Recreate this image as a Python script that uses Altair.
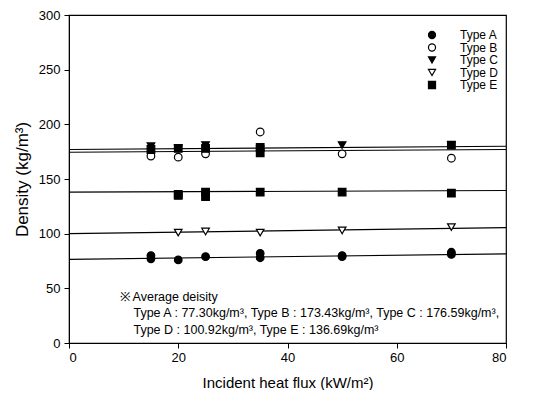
import altair as alt
import pandas as pd

# ---- data ----
types = ["Type A", "Type B", "Type C", "Type D", "Type E"]

a_x = [15, 15, 20, 25, 35, 35, 50, 50, 70, 70]
a_y = [80, 77, 76, 79, 82, 78, 80, 79, 83, 81]
b_x = [15, 20, 25, 35, 50, 70]
b_y = [171, 170, 173, 193, 173, 169]
c_x = [15, 20, 25, 35, 50, 70]
c_y = [180, 178, 181, 177, 181, 181]
d_x = [20, 25, 35, 50, 70]
d_y = [101, 102, 101, 103, 106]
e_x = [15, 20, 25, 35, 35, 70, 20, 20, 25, 25, 35, 50, 70]
e_y = [177, 178, 178, 179, 174, 181, 136, 135, 138, 134, 138, 138, 137]

# fitted lines (value at x=0 and x=80)
line_x0 = [0, 0, 0, 0, 0]
line_x1 = [80, 80, 80, 80, 80]
line_y0 = [76.5, 174.5, 177.0, 100.0, 138.0]
line_y1 = [81.5, 177.0, 180.0, 105.5, 139.5]

notes = [
    "※  Average deisity",
    "Type A :   77.30kg/m³, Type B : 173.43kg/m³, Type C : 176.59kg/m³,",
    "Type D : 100.92kg/m³, Type E : 136.69kg/m³",
]
note_x = [9.3, 11.8, 11.8]
note_y = [42, 27.3, 11.8]

shapes = ["circle", "circle", "triangle-down", "triangle-down", "square"]
fills = ["black", "white", "black", "white", "black"]
strokes = ["black"] * 5

rows = []
for t, xs, ys in zip(types, [a_x, b_x, c_x, d_x, e_x], [a_y, b_y, c_y, d_y, e_y]):
    for x, y in zip(xs, ys):
        rows.append({"type": t, "flux": x, "density": y})
pts = pd.DataFrame(rows)

lines = pd.DataFrame({"type": types, "x0": line_x0, "x1": line_x1,
                      "y0": line_y0, "y1": line_y1})
notes_df = pd.DataFrame({"t": notes, "x": note_x, "y": note_y})

FONT = "Liberation Sans"

xscale = alt.Scale(domain=[0, 80], nice=False)
yscale = alt.Scale(domain=[0, 300], nice=False)

xaxis = alt.Axis(title="Incident heat flux (kW/m²)", values=[0, 20, 40, 60, 80],
                 grid=False, tickSize=5, labelPadding=3, titlePadding=11,
                 domainColor="black", tickColor="black", labelColor="black",
                 titleColor="black", labelFontSize=13, titleFontSize=15,
                 titleFontWeight="normal", labelFont=FONT, titleFont=FONT)
yaxis = alt.Axis(title="Density (kg/m³)", values=[0, 50, 100, 150, 200, 250, 300],
                 grid=False, tickSize=5, labelPadding=4, titlePadding=7,
                 domainColor="black", tickColor="black", labelColor="black",
                 titleColor="black", labelFontSize=13, titleFontSize=17,
                 titleFontWeight="normal", labelFont=FONT, titleFont=FONT)

legend = alt.Legend(
    title=None, orient="none", legendX=357, legendY=14, labelFont=FONT,
    labelFontSize=12, labelColor="black", labelOffset=22, rowPadding=0.5,
    symbolSize=50, symbolStrokeWidth=1.2,
)

line_layer = alt.Chart(lines).mark_rule(color="black", strokeWidth=1.1).encode(
    x=alt.X("x0:Q", scale=xscale, axis=xaxis),
    x2="x1:Q",
    y=alt.Y("y0:Q", scale=yscale, axis=yaxis),
    y2="y1:Q",
)

point_layer = alt.Chart(pts).mark_point(filled=True, size=58,
                                        strokeWidth=1.2, opacity=1).encode(
    x=alt.X("flux:Q", scale=xscale),
    y=alt.Y("density:Q", scale=yscale),
    shape=alt.Shape("type:N", scale=alt.Scale(domain=types, range=shapes),
                    legend=legend),
    fill=alt.Fill("type:N", scale=alt.Scale(domain=types, range=fills),
                  legend=legend),
    stroke=alt.Stroke("type:N", scale=alt.Scale(domain=types, range=strokes),
                      legend=legend),
)

note_layer = alt.Chart(notes_df).mark_text(align="left", baseline="middle",
                                           font=FONT, fontSize=12.5,
                                           color="black").encode(
    x=alt.X("x:Q", scale=xscale),
    y=alt.Y("y:Q", scale=yscale),
    text="t:N",
)

chart = alt.layer(line_layer, point_layer, note_layer).properties(
    width=437, height=328,
    autosize=alt.AutoSizeParams(type="none"),
    padding={"left": 61, "top": 7, "right": 26, "bottom": 47},
    background="white",
).configure_view(stroke="black", strokeWidth=1.2)

chart.save("out.html", embed_options={"renderer": "svg", "actions": False})
